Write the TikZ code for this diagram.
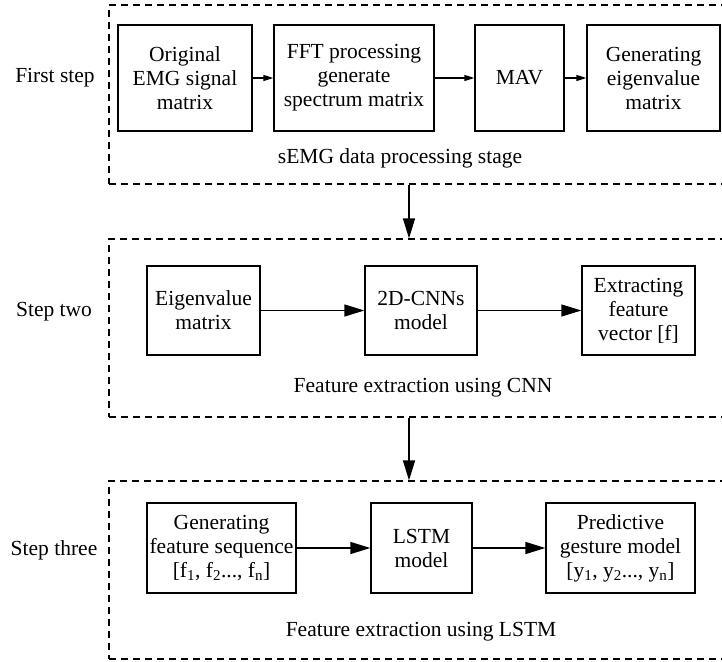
\documentclass[tikz,border=0pt]{standalone}
\usepackage{fontspec}
\setmainfont{Liberation Serif}
\usetikzlibrary{arrows.meta}
\begin{document}
\begin{tikzpicture}[x=1pt,y=-1pt,
  every node/.style={font=\fontsize{21.5}{24}\selectfont, inner sep=0pt},
  blockbox/.style={draw, line width=1.3pt, align=center},
  stageframe/.style={draw, dash pattern=on 7pt off 5pt, line width=1.2pt,
    minimum width=640pt},
  smallarrow/.style={-{Triangle[length=10pt,width=6pt]}, line width=1.3pt},
  bigarrow/.style={-{Triangle[length=20pt,width=12pt]}, line width=1.3pt}]
\clip (0,0) rectangle (722,661);
\fill[white] (0,0) rectangle (722,661);

% stage frames (open to the right)
\node[stageframe, minimum height=179pt] (f1) at (429,94.5) {};
\node[stageframe, minimum height=178pt] (f2) at (429,328) {};
\node[stageframe, minimum height=178pt] (f3) at (429,570) {};

% step names
\node (l1) at (55,78) {First step};
\node (l2) at (54,312) {Step two};
\node (l3) at (54,550) {Step three};

% first step
\node[blockbox, minimum width=134pt, minimum height=106pt] (a) at (185,78)
  {Original\\EMG signal\\matrix};
\node[blockbox, minimum width=160pt, minimum height=106pt] (b) at (354,78)
  {FFT processing\\generate\\spectrum matrix};
\node[blockbox, minimum width=89pt, minimum height=106pt] (c) at (519.5,78)
  {MAV};
\node[blockbox, minimum width=133pt, minimum height=106pt] (d) at (653.5,78)
  {Generating\\eigenvalue\\matrix};
\node (s1) at (400,158) {sEMG data processing stage};
\draw[smallarrow] (a) -- (b);
\draw[smallarrow] (b) -- (c);
\draw[smallarrow] (c) -- (d);

% step two
\node[blockbox, minimum width=113pt, minimum height=89pt] (e) at (203.5,310.5)
  {Eigenvalue\\matrix};
\node[blockbox, minimum width=112pt, minimum height=89pt] (f) at (421,310.5)
  {2D-CNNs\\model};
\node[blockbox, minimum width=113pt, minimum height=89pt] (g) at (638.5,310.5)
  {Extracting\\feature\\vector [f]};
\node (s2) at (423,388) {Feature extraction using CNN};
\draw[bigarrow] (e) -- (f);
\draw[bigarrow] (f) -- (g);

% step three
\node[blockbox, minimum width=149pt, minimum height=90pt] (h) at (221.5,548)
  {Generating\\feature sequence\\{}[f\textsubscript{1}, f\textsubscript{2}..., f\textsubscript{n}]};
\node[blockbox, minimum width=101pt, minimum height=90pt] (i) at (421.5,548)
  {LSTM\\model};
\node[blockbox, minimum width=149pt, minimum height=90pt] (j) at (620.5,548)
  {Predictive\\gesture model\\{}[y\textsubscript{1}, y\textsubscript{2}..., y\textsubscript{n}]};
\node (s3) at (421,632) {Feature extraction using LSTM};
\draw[bigarrow] (h) -- (i);
\draw[bigarrow] (i) -- (j);

% links between stages
\coordinate (vx) at (409,0);
\draw[bigarrow] (f1.south -| vx) -- (f2.north -| vx);
\draw[bigarrow] (f2.south -| vx) -- (f3.north -| vx);
\end{tikzpicture}
\end{document}
